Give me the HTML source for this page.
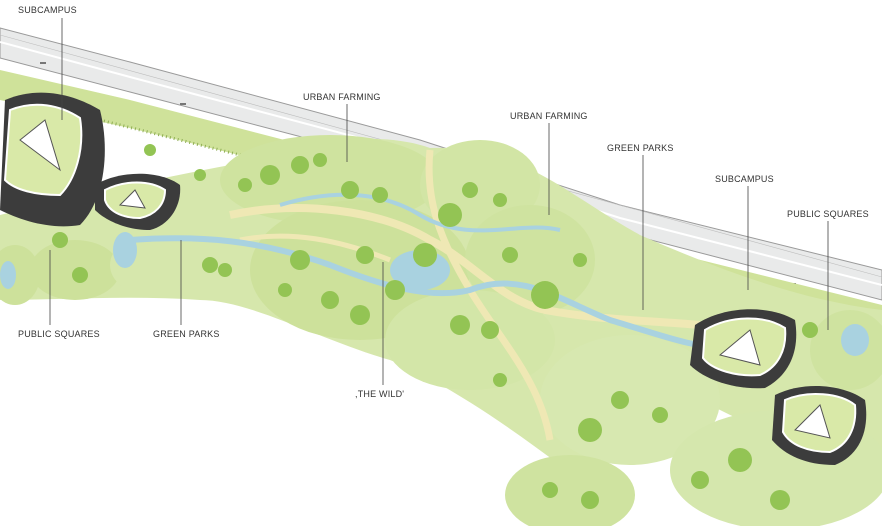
<!DOCTYPE html>
<html><head><meta charset="utf-8"><style>
html,body{margin:0;padding:0;background:#fff;}
svg{display:block}
text{font-family:"Liberation Sans",sans-serif;font-size:9px;fill:#333;letter-spacing:0.2px}
</style></head><body>
<svg width="882" height="526" viewBox="0 0 882 526" xmlns="http://www.w3.org/2000/svg">
<rect width="882" height="526" fill="#fff"/>
<!-- road band -->
<path d="M0,28 L130,62 L420,140 L620,205 L882,270 L882,300 L620,232 L420,168 L130,92 L0,58 Z" fill="#e9eaea" stroke="#9a9a9a" stroke-width="1"/>
<path d="M0,42 L130,77 L420,154 L620,218 L882,285" fill="none" stroke="#fff" stroke-width="2"/>
<path d="M0,35 L882,277" fill="none" stroke="#bdbdbd" stroke-width="0.6"/>
<g fill="#777"><rect x="40" y="62" width="6" height="2"/><rect x="180" y="103" width="6" height="2"/><rect x="700" y="262" width="6" height="2"/><rect x="790" y="283" width="6" height="2"/></g>
<!-- green strip below road -->
<path d="M0,70 L130,100 L420,175 L620,240 L882,305 L882,320 L620,262 L420,200 L130,128 L0,100 Z" fill="#cfe29a"/>
<path d="M100,120 L420,200 L880,320" fill="none" stroke="#8fae55" stroke-width="3" stroke-dasharray="1 3"/>
<!-- main green landmass -->
<path d="M0,215 C60,200 150,180 230,165 C300,140 380,130 430,148 C520,145 560,190 640,235 C720,270 800,300 882,310 L882,470 C820,460 760,430 700,400 C640,420 600,470 560,465 C500,420 440,380 390,360 C320,340 250,300 200,300 C130,295 60,300 0,300 Z" fill="#d6e7ac"/>
<ellipse cx="330" cy="180" rx="110" ry="45" fill="#cfe39f"/>
<ellipse cx="480" cy="185" rx="60" ry="45" fill="#d2e5a5"/>
<ellipse cx="360" cy="270" rx="110" ry="70" fill="#cde19b"/>
<ellipse cx="530" cy="260" rx="65" ry="55" fill="#cfe3a0"/>
<ellipse cx="470" cy="340" rx="85" ry="50" fill="#d3e6a8"/>
<ellipse cx="630" cy="400" rx="90" ry="65" fill="#d7e8b0"/>
<ellipse cx="780" cy="470" rx="110" ry="60" fill="#d5e7ad"/>
<ellipse cx="570" cy="495" rx="65" ry="40" fill="#cfe3a0"/>
<ellipse cx="75" cy="270" rx="45" ry="30" fill="#cde19b"/>
<ellipse cx="15" cy="275" rx="25" ry="30" fill="#cde19b"/>
<ellipse cx="150" cy="265" rx="40" ry="30" fill="#d6e7ac"/>
<ellipse cx="850" cy="350" rx="40" ry="40" fill="#cfe3a0"/>
<!-- paths -->
<path d="M230,215 C300,200 380,210 430,240 C470,260 500,300 545,310 C600,320 640,320 700,325" fill="none" stroke="#efe8b4" stroke-width="8"/>
<path d="M430,150 C425,200 440,240 470,290 C500,340 540,380 550,440" fill="none" stroke="#efe8b4" stroke-width="7"/>
<path d="M240,240 C290,230 340,240 390,260" fill="none" stroke="#efe8b4" stroke-width="5"/>
<!-- water -->
<path d="M130,240 C200,235 260,240 330,265 C380,285 430,300 470,290 C520,270 560,300 610,320 C660,335 700,350 720,345" fill="none" stroke="#a9d2e0" stroke-width="6"/>
<path d="M280,205 C330,190 380,190 420,215 C470,245 520,220 560,230" fill="none" stroke="#a9d2e0" stroke-width="4"/>
<ellipse cx="420" cy="270" rx="30" ry="20" fill="#a9d2e0"/>
<ellipse cx="125" cy="250" rx="12" ry="18" fill="#a9d2e0"/>
<ellipse cx="8" cy="275" rx="8" ry="14" fill="#a9d2e0"/>
<ellipse cx="855" cy="340" rx="14" ry="16" fill="#a9d2e0"/>
<!-- trees -->
<g fill="#93c454">
<circle cx="270" cy="175" r="10"/><circle cx="300" cy="165" r="9"/><circle cx="350" cy="190" r="9"/><circle cx="380" cy="195" r="8"/><circle cx="320" cy="160" r="7"/><circle cx="245" cy="185" r="7"/>
<circle cx="450" cy="215" r="12"/><circle cx="470" cy="190" r="8"/><circle cx="500" cy="200" r="7"/>
<circle cx="300" cy="260" r="10"/><circle cx="330" cy="300" r="9"/><circle cx="360" cy="315" r="10"/><circle cx="395" cy="290" r="10"/><circle cx="365" cy="255" r="9"/><circle cx="425" cy="255" r="12"/><circle cx="285" cy="290" r="7"/>
<circle cx="545" cy="295" r="14"/><circle cx="510" cy="255" r="8"/><circle cx="580" cy="260" r="7"/>
<circle cx="460" cy="325" r="10"/><circle cx="490" cy="330" r="9"/><circle cx="500" cy="380" r="7"/>
<circle cx="590" cy="430" r="12"/><circle cx="620" cy="400" r="9"/><circle cx="660" cy="415" r="8"/>
<circle cx="740" cy="460" r="12"/><circle cx="780" cy="500" r="10"/><circle cx="700" cy="480" r="9"/>
<circle cx="550" cy="490" r="8"/><circle cx="590" cy="500" r="9"/>
<circle cx="80" cy="275" r="8"/><circle cx="60" cy="240" r="8"/><circle cx="210" cy="265" r="8"/><circle cx="225" cy="270" r="7"/>
<circle cx="810" cy="330" r="8"/><circle cx="150" cy="150" r="6"/><circle cx="200" cy="175" r="6"/>
</g>
<!-- subcampus buildings -->
<g>
<path d="M5,100 C40,85 75,95 100,110 C110,150 105,200 80,225 C50,230 20,220 0,210 Z" fill="#3c3c3c"/>
<path d="M10,110 C35,100 60,105 80,118 C85,150 75,180 60,195 C35,195 15,190 5,180 Z" fill="#d9e9a8" stroke="#fff" stroke-width="2"/>
<path d="M20,140 L45,120 L60,170 Z" fill="#fff" stroke="#555"/>
<path d="M95,185 C120,170 160,170 180,185 C182,205 170,225 150,230 C125,230 105,220 95,210 Z" fill="#3c3c3c"/>
<path d="M105,190 C125,180 150,180 165,190 C165,205 155,215 140,218 C120,218 108,210 105,200 Z" fill="#d9e9a8" stroke="#fff" stroke-width="2"/>
<path d="M120,205 L135,190 L145,208 Z" fill="#fff" stroke="#555"/>
<path d="M695,325 C725,305 770,305 795,320 C800,350 790,375 765,388 C735,390 705,380 690,365 Z" fill="#3c3c3c"/>
<path d="M705,330 C730,315 765,315 785,328 C787,350 778,367 760,375 C737,377 712,370 703,358 Z" fill="#d9e9a8" stroke="#fff" stroke-width="2"/>
<path d="M720,355 L750,330 L760,365 Z" fill="#fff" stroke="#555"/>
<path d="M775,395 C805,380 845,385 865,400 C870,430 860,455 835,465 C805,465 785,455 772,440 Z" fill="#3c3c3c"/>
<path d="M785,400 C808,390 840,393 855,405 C857,428 848,445 830,452 C808,452 790,445 783,432 Z" fill="#d9e9a8" stroke="#fff" stroke-width="2"/>
<path d="M795,430 L820,405 L830,438 Z" fill="#fff" stroke="#555"/>
</g>
<!-- label leader lines -->
<g stroke="#444" stroke-width="0.8">
<line x1="62" y1="18" x2="62" y2="120"/>
<line x1="347" y1="104" x2="347" y2="162"/>
<line x1="549" y1="123" x2="549" y2="215"/>
<line x1="643" y1="155" x2="643" y2="310"/>
<line x1="748" y1="186" x2="748" y2="290"/>
<line x1="828" y1="221" x2="828" y2="330"/>
<line x1="50" y1="250" x2="50" y2="325"/>
<line x1="181" y1="240" x2="181" y2="325"/>
<line x1="383" y1="262" x2="383" y2="385"/>
</g>
<g>
<text x="18" y="13">SUBCAMPUS</text>
<text x="303" y="100">URBAN FARMING</text>
<text x="510" y="119">URBAN FARMING</text>
<text x="607" y="151">GREEN PARKS</text>
<text x="715" y="182">SUBCAMPUS</text>
<text x="787" y="217">PUBLIC SQUARES</text>
<text x="18" y="337">PUBLIC SQUARES</text>
<text x="153" y="337">GREEN PARKS</text>
<text x="355" y="397">,THE WILD'</text>
</g>
</svg>
</body></html>
